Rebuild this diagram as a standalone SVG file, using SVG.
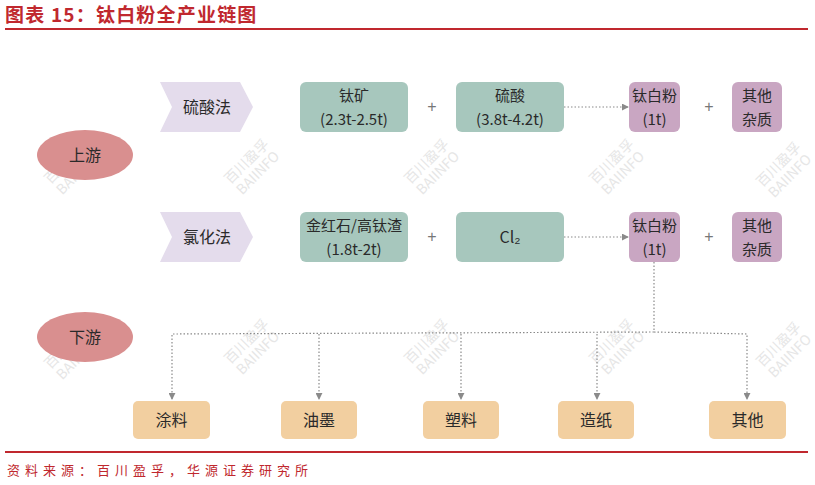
<svg xmlns="http://www.w3.org/2000/svg" width="815" height="485" viewBox="0 0 815 485">
<defs>
<style>
text{font-family:"Noto Sans CJK SC","Liberation Sans",sans-serif;}
.t{font-size:16px;fill:#2a2a2a;text-anchor:middle;}
.t2{font-size:15px;fill:#2a2a2a;text-anchor:middle;}
.g{fill:#a7c7bd;}
.p{fill:#c9a6c2;}
.o{fill:#f2cfa0;}
.ch{fill:#e4dcec;}
.el{fill:#d98f8f;}
.plus{font-size:16px;fill:#777;text-anchor:middle;font-family:"Liberation Sans",sans-serif;}
.dot{fill:none;stroke:#8a8a8a;stroke-width:1.2;stroke-dasharray:1.5 2;}
.wm{font-size:14px;fill:#d6d6d6;opacity:0.6;text-anchor:middle;}
</style>
<marker id="ah" viewBox="0 0 8 8" refX="7" refY="4" markerWidth="7" markerHeight="7" orient="auto" markerUnits="userSpaceOnUse">
<path d="M0,0 L8,4 L0,8 z" fill="#8a8a8a"/>
</marker>
</defs>
<rect width="815" height="485" fill="#fff"/>
<text x="5" y="22" style="font-size:19px;font-weight:bold;fill:#c0282e;letter-spacing:1.2px;">图表 15：钛白粉全产业链图</text>
<line x1="5" y1="29" x2="808" y2="29" stroke="#c0282e" stroke-width="2"/>

<g id="watermarks">
<g transform="translate(70,165) rotate(-45)"><text class="wm" y="0">百川盈孚</text><text class="wm" y="16">BAIINFO</text></g>
<g transform="translate(250,165) rotate(-45)"><text class="wm" y="0">百川盈孚</text><text class="wm" y="16">BAIINFO</text></g>
<g transform="translate(430,165) rotate(-45)"><text class="wm" y="0">百川盈孚</text><text class="wm" y="16">BAIINFO</text></g>
<g transform="translate(615,165) rotate(-45)"><text class="wm" y="0">百川盈孚</text><text class="wm" y="16">BAIINFO</text></g>
<g transform="translate(782,168) rotate(-45)"><text class="wm" y="0">百川盈孚</text><text class="wm" y="16">BAIINFO</text></g>
<g transform="translate(70,350) rotate(-45)"><text class="wm" y="0">百川盈孚</text><text class="wm" y="16">BAIINFO</text></g>
<g transform="translate(250,345) rotate(-45)"><text class="wm" y="0">百川盈孚</text><text class="wm" y="16">BAIINFO</text></g>
<g transform="translate(430,345) rotate(-45)"><text class="wm" y="0">百川盈孚</text><text class="wm" y="16">BAIINFO</text></g>
<g transform="translate(615,345) rotate(-45)"><text class="wm" y="0">百川盈孚</text><text class="wm" y="16">BAIINFO</text></g>
<g transform="translate(782,348) rotate(-45)"><text class="wm" y="0">百川盈孚</text><text class="wm" y="16">BAIINFO</text></g>
</g>

<g id="connectors">
<line class="dot" x1="564" y1="107" x2="628" y2="107" marker-end="url(#ah)"/>
<line class="dot" x1="564" y1="237" x2="628" y2="237" marker-end="url(#ah)"/>
<polyline class="dot" points="654,262 654,332 172,334 172,399" marker-end="url(#ah)"/>
<polyline class="dot" points="654,332 747,334 747,399" marker-end="url(#ah)"/>
<line class="dot" x1="319" y1="334" x2="319" y2="399" marker-end="url(#ah)"/>
<line class="dot" x1="461" y1="334" x2="461" y2="399" marker-end="url(#ah)"/>
<line class="dot" x1="597" y1="334" x2="597" y2="399" marker-end="url(#ah)"/>
</g>

<g id="upstream"><ellipse class="el" cx="85" cy="155" rx="48" ry="25"/><text class="t" x="85" y="161">上游</text></g>
<g id="downstream"><ellipse class="el" cx="85" cy="337" rx="48" ry="25"/><text class="t" x="85" y="343">下游</text></g>

<g id="sulfuric-method"><path class="ch" d="M160,82 H240 L253,107 L240,132 H160 L172,107 Z"/><text class="t" x="207" y="113">硫酸法</text></g>
<g id="chloride-method"><path class="ch" d="M160,212 H240 L253,237 L240,262 H160 L172,237 Z"/><text class="t" x="207" y="243">氯化法</text></g>

<g id="ilmenite"><rect class="g" x="300" y="82" width="108" height="50" rx="6"/><text class="t2" x="354" y="101">钛矿</text><text class="t2" x="354" y="124.5">(2.3t-2.5t)</text></g>
<text class="plus" x="432" y="112">+</text>
<g id="sulfuric-acid"><rect class="g" x="456" y="82" width="108" height="50" rx="6"/><text class="t2" x="510" y="101">硫酸</text><text class="t2" x="510" y="124.5">(3.8t-4.2t)</text></g>
<g id="tio2-1"><rect class="p" x="629" y="82" width="51" height="50" rx="6"/><text class="t2" x="654.5" y="101">钛白粉</text><text class="t2" x="654.5" y="124.5">(1t)</text></g>
<text class="plus" x="709" y="112">+</text>
<g id="other-1"><rect class="p" x="732" y="82" width="50" height="50" rx="6"/><text class="t2" x="757" y="101">其他</text><text class="t2" x="757" y="124.5">杂质</text></g>

<g id="rutile"><rect class="g" x="300" y="212" width="108" height="50" rx="6"/><text class="t2" x="354" y="231">金红石/高钛渣</text><text class="t2" x="354" y="254.5">(1.8t-2t)</text></g>
<text class="plus" x="432" y="242">+</text>
<g id="chlorine"><rect class="g" x="456" y="212" width="108" height="50" rx="6"/><text class="t" x="510" y="243">Cl₂</text></g>
<g id="tio2-2"><rect class="p" x="629" y="212" width="51" height="50" rx="6"/><text class="t2" x="654.5" y="231">钛白粉</text><text class="t2" x="654.5" y="254.5">(1t)</text></g>
<text class="plus" x="709" y="242">+</text>
<g id="other-2"><rect class="p" x="732" y="212" width="50" height="50" rx="6"/><text class="t2" x="757" y="231">其他</text><text class="t2" x="757" y="254.5">杂质</text></g>

<g id="coating"><rect class="o" x="133" y="401" width="77" height="38" rx="5"/><text class="t" x="171.5" y="426">涂料</text></g>
<g id="ink"><rect class="o" x="281" y="401" width="76" height="38" rx="5"/><text class="t" x="319" y="426">油墨</text></g>
<g id="plastic"><rect class="o" x="423" y="401" width="76" height="38" rx="5"/><text class="t" x="461" y="426">塑料</text></g>
<g id="paper"><rect class="o" x="558" y="401" width="76" height="38" rx="5"/><text class="t" x="596" y="426">造纸</text></g>
<g id="others"><rect class="o" x="709" y="401" width="77" height="38" rx="5"/><text class="t" x="747.5" y="426">其他</text></g>

<line x1="5" y1="452" x2="808" y2="452" stroke="#c0282e" stroke-width="2"/>
<text x="7" y="475" style="font-size:13px;fill:#c0282e;letter-spacing:5px;">资料来源：百川盈孚，华源证券研究所</text>
</svg>
